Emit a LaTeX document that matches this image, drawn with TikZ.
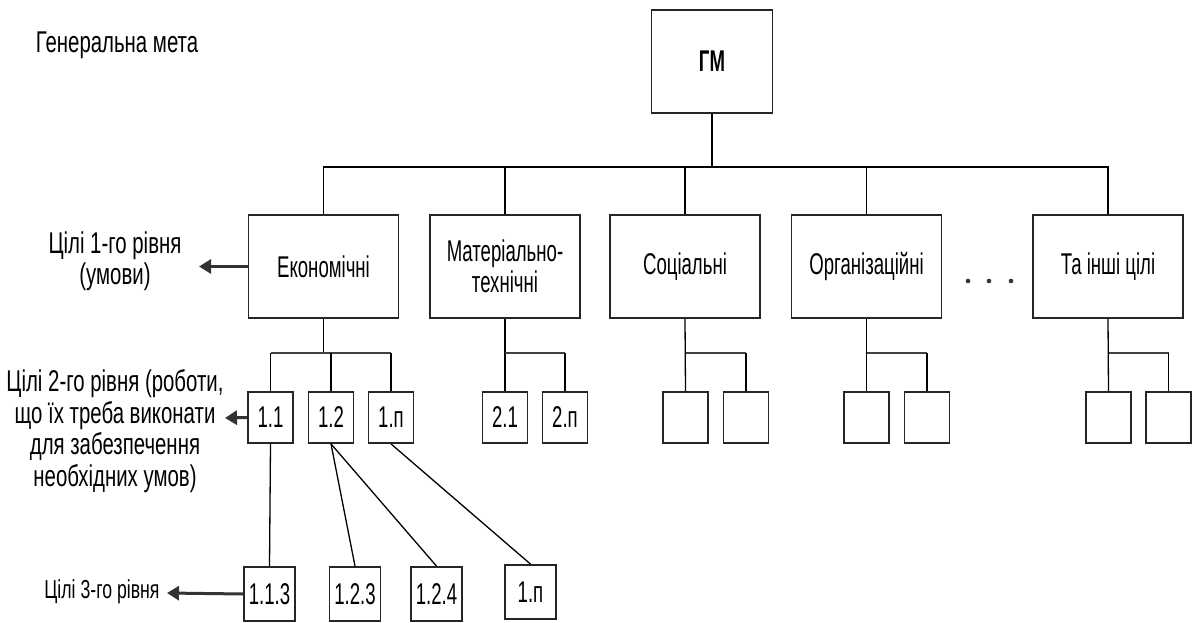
\documentclass[tikz,border=0pt]{standalone}
\usepackage{fontspec}
\setmainfont{Liberation Sans}[FakeStretch=0.62]
\newfontfamily\sidefont{Liberation Sans}[FakeStretch=0.68]
\usetikzlibrary{arrows.meta}
\usetikzlibrary{positioning}
\tikzstyle{goal_box} = [
    draw=black!85,
    line width=1.8pt,
    align=center,
    inner sep=0pt,
    font=\fontsize{30}{31}\selectfont
]
\tikzstyle{top_box} = [
    goal_box,
    minimum width=121pt,
    minimum height=103pt,
    font=\fontsize{30}{31}\selectfont\bfseries
]
\tikzstyle{one_box} = [
    goal_box,
    minimum width=150pt,
    minimum height=103pt
]
\tikzstyle{two_box} = [
    goal_box,
    minimum width=45pt,
    minimum height=51pt
]
\tikzstyle{three_box} = [
    goal_box,
    minimum width=51pt,
    minimum height=54pt
]
\tikzstyle{side_text} = [
    align=center,
    inner sep=0pt,
    font=\sidefont\fontsize{30}{31.5}\selectfont
]
\tikzstyle{link} = [draw=black, line width=1.3pt]
\tikzstyle{bus} = [draw=black!75, line width=2.4pt]
\tikzstyle{side_arrow} = [
    draw=black!80,
    line width=3pt,
    -{Triangle[length=12pt, width=14pt]}
]

\begin{document}
\begin{tikzpicture}[x=1pt, y=-1pt]
\useasboundingbox (0,0) rectangle (1194,623);

% left side texts
\node [side_text] (lbl_goal) at (117,45) {Генеральна мета};
\node [side_text] (lbl_one) at (115,261) {Цілі 1-го рівня\\(умови)};
\node [side_text] (lbl_two) at (115,431) {Цілі 2-го рівня (роботи,\\що їх треба виконати\\для забезпечення\\необхідних умов)};
\node [side_text, font=\sidefont\fontsize{26}{28}\selectfont] (lbl_three) at (102,592) {Цілі 3-го рівня};

% general goal and first level
\node [top_box] (gm) at (712,61.5) {ГМ};
\node [one_box] (econ) at (323.5,266.5) {Економічні};
\node [one_box] (mat) at (505,266.5) {Матеріально-\\технічні};
\node [one_box] (soc) at (685,266.5) {Соціальні};
\node [one_box] (org) at (866.5,266.5) {Організаційні};
\node [one_box] (other) at (1108,266.5) {Та інші цілі};
\foreach \x in {968,989,1011}
    \fill [black!80] (\x,281) circle (2.3pt);

% second level
\node [two_box] (e11) at (270.5,417.5) {1.1};
\node [two_box] (e12) at (331,417.5) {1.2};
\node [two_box] (e1n) at (391,417.5) {1.п};
\node [two_box] (m21) at (505,417.5) {2.1};
\node [two_box] (m2n) at (565,417.5) {2.п};
\node [two_box] (s_a) at (685.5,417.5) {};
\node [two_box] (s_b) at (746,417.5) {};
\node [two_box] (o_a) at (866.5,417.5) {};
\node [two_box] (o_b) at (927,417.5) {};
\node [two_box] (t_a) at (1108.5,417.5) {};
\node [two_box] (t_b) at (1168.5,417.5) {};

% third level
\node [three_box] (e113) at (269.5,594) {1.1.3};
\node [three_box] (e123) at (355,594) {1.2.3};
\node [three_box] (e124) at (436.5,594) {1.2.4};
\node [three_box] (e1n3) at (530.5,592) {1.п};

% buses
\coordinate (top_bus) at (712,167);
\draw [link] (gm.south) -- (top_bus);
\draw [link] (econ.north) |- (top_bus) -| (other.north);
\draw [link] (mat.north) -- (mat.north |- top_bus);
\draw [link] (soc.north) -- (soc.north |- top_bus);
\draw [link] (org.north) -- (org.north |- top_bus);

\coordinate (econ_bus) at (323.5,353);
\draw [link] (econ.south) -- (econ_bus);
\draw [bus] (e11.north |- econ_bus) -- (e1n.north |- econ_bus);
\draw [link] (e11.north) -- (e11.north |- econ_bus);
\draw [link] (e12.north) -- (e12.north |- econ_bus);
\draw [link] (e1n.north) -- (e1n.north |- econ_bus);

\coordinate (mat_bus) at (505,353);
\draw [link] (mat.south) -- (m21.north);
\draw [bus] (mat_bus) -- (m2n.north |- mat_bus);
\draw [link] (m2n.north) -- (m2n.north |- mat_bus);

\coordinate (soc_bus) at (685.5,353);
\draw [link] (soc.south) -- (s_a.north);
\draw [bus] (soc_bus) -- (s_b.north |- soc_bus);
\draw [link] (s_b.north) -- (s_b.north |- soc_bus);

\coordinate (org_bus) at (866.5,353);
\draw [link] (org.south) -- (o_a.north);
\draw [bus] (org_bus) -- (o_b.north |- org_bus);
\draw [link] (o_b.north) -- (o_b.north |- org_bus);

\coordinate (other_bus) at (1108.5,353);
\draw [link] (other.south) -- (t_a.north);
\draw [bus] (other_bus) -- (t_b.north |- other_bus);
\draw [link] (t_b.north) -- (t_b.north |- other_bus);

% links to third level
\draw [link] (e11.south) -- (e113.north);
\draw [link] (e12.south) -- (e123.north);
\draw [link] (e12.south) -- (e124.north);
\draw [link] (e1n.south) -- (e1n3.north);

% arrows to the side texts
\coordinate (tip_one) at (199,266.5);
\coordinate (tip_two) at (225,418);
\coordinate (tip_three) at (167,593);
\draw [side_arrow] (econ.west) -- (tip_one);
\draw [side_arrow] (e11.west) -- (tip_two);
\draw [side_arrow] (e113.west) -- (tip_three);
\end{tikzpicture}
\end{document}
